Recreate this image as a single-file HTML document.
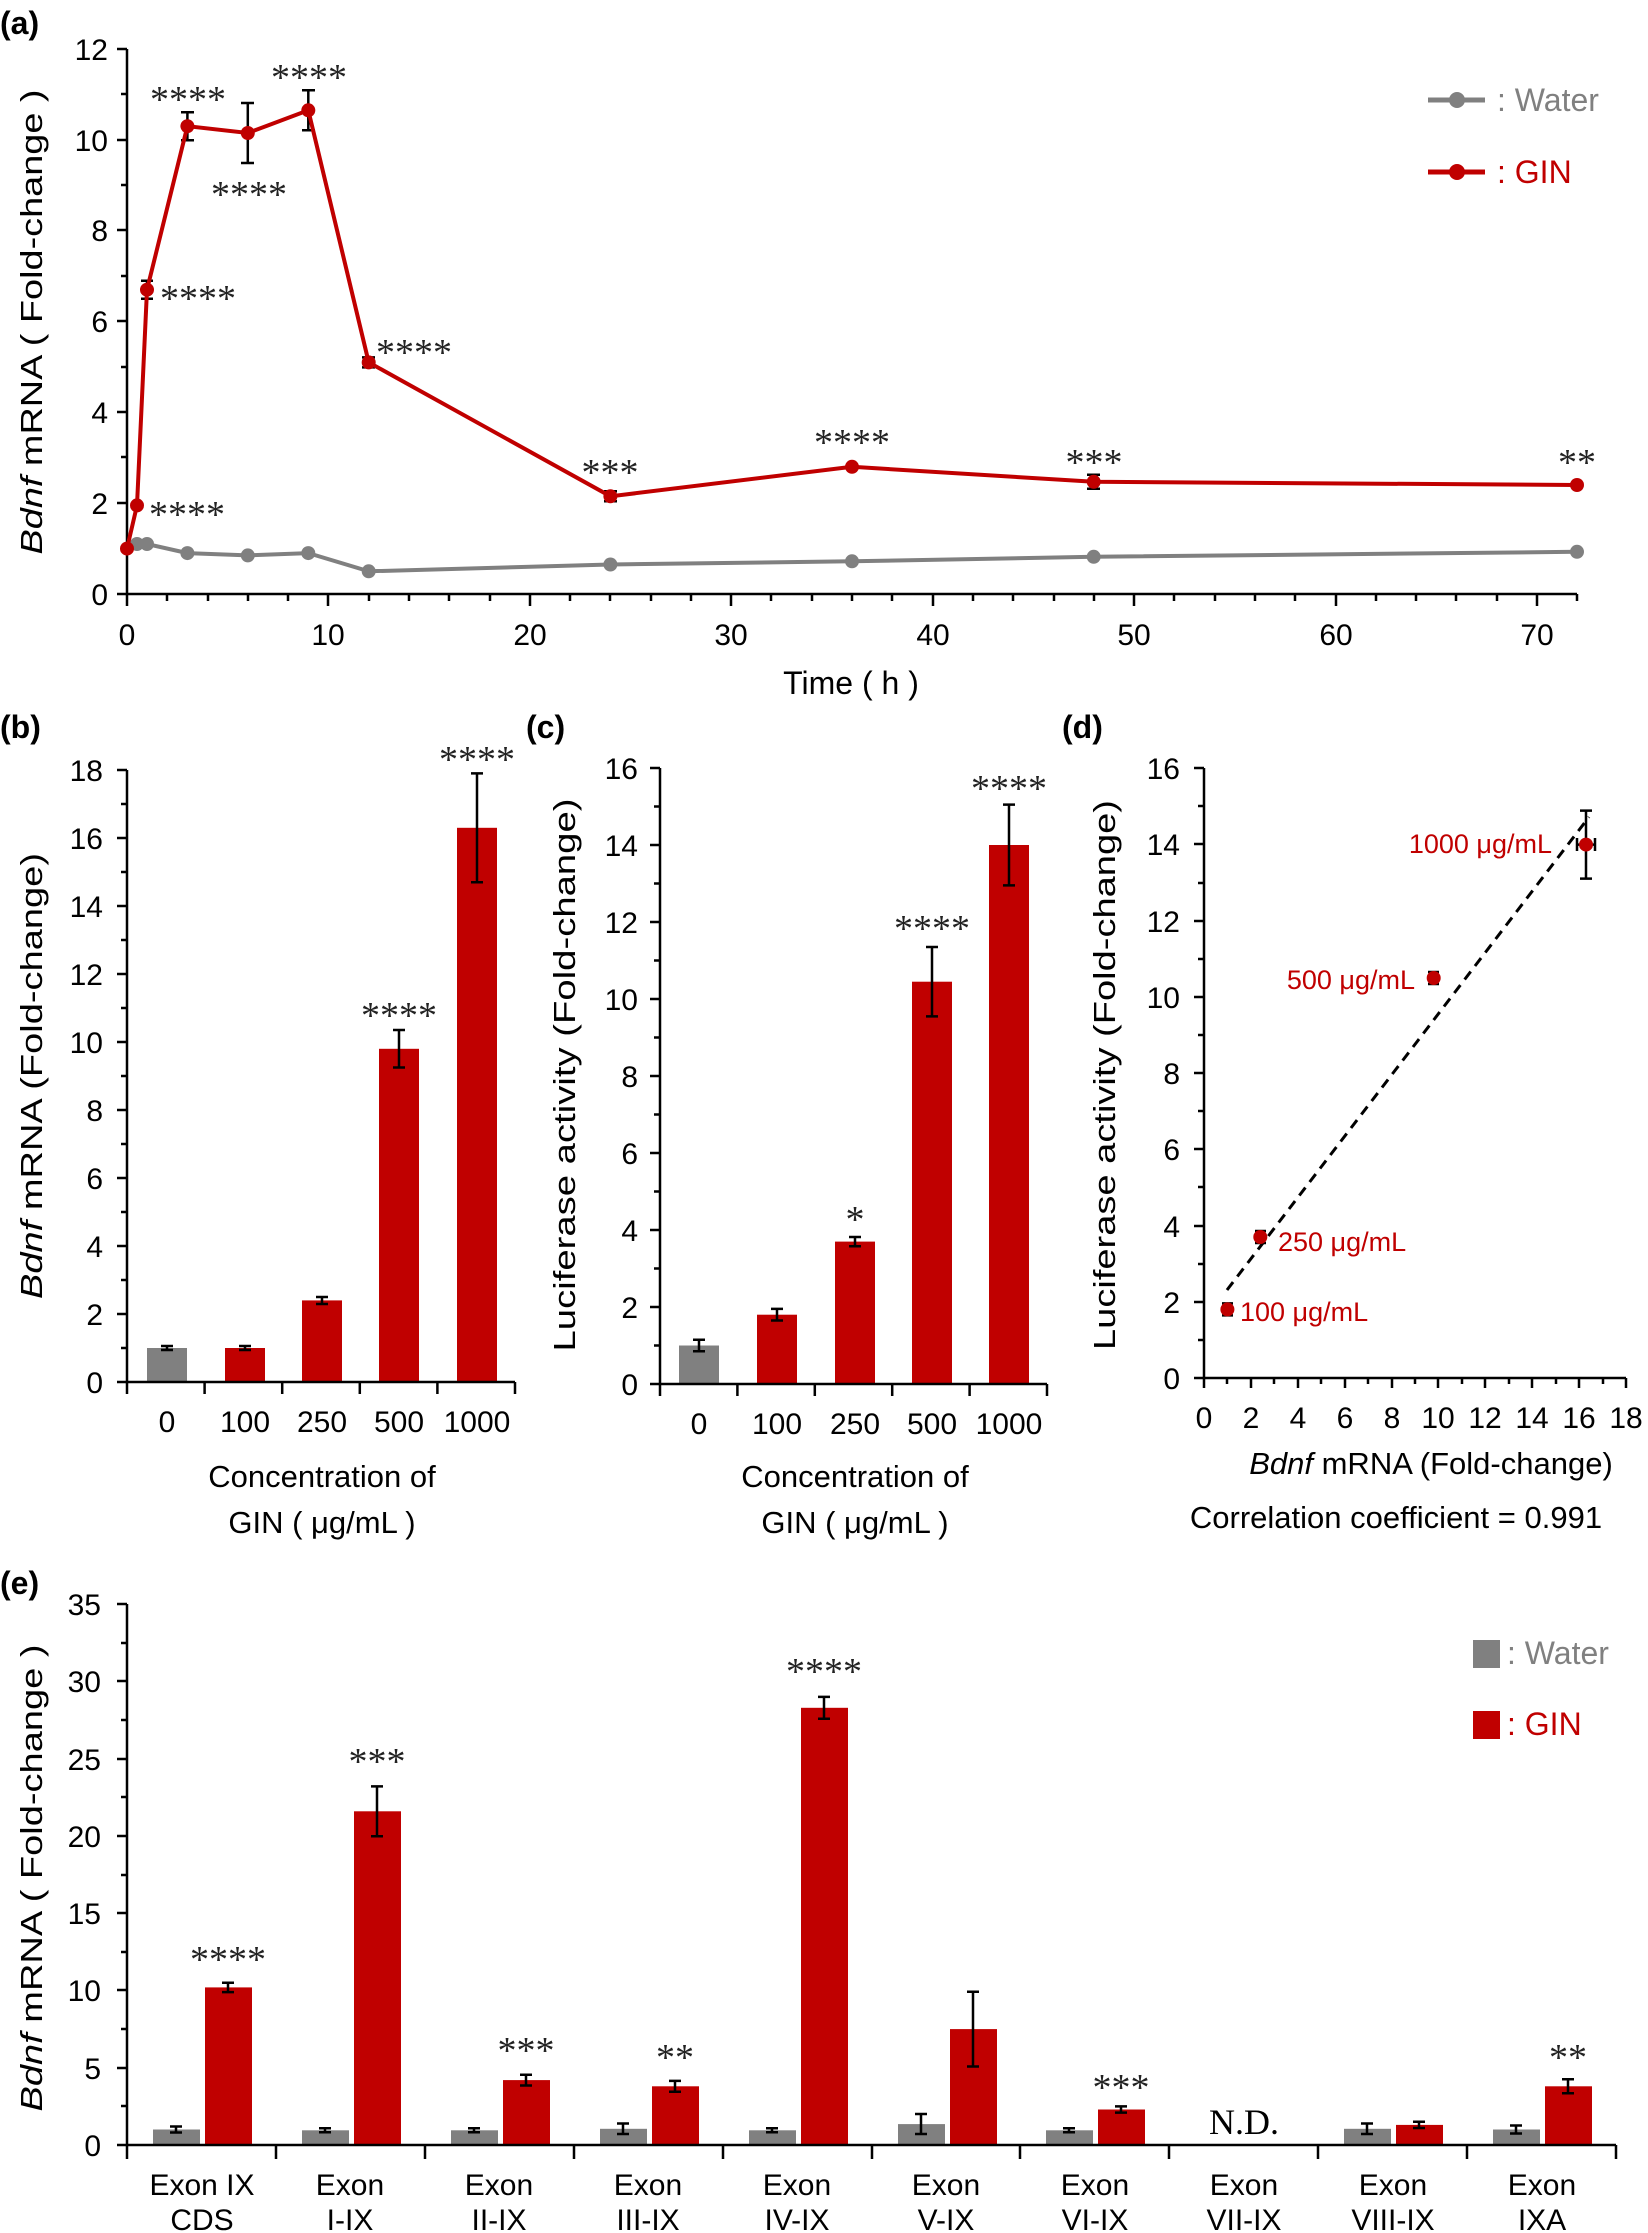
<!DOCTYPE html>
<html><head><meta charset="utf-8"><style>
html,body{margin:0;padding:0;background:#fff;}
svg{display:block;font-family:"Liberation Sans",Arial,sans-serif;}
.t{font-size:30px;fill:#000;}
.s{font-family:"Liberation Serif",serif;font-size:38px;fill:#222;}
.ax{stroke:#000;stroke-width:2.5;fill:none;}
.eb{stroke:#000;stroke-width:2.5;fill:none;}
.lab{font-weight:bold;font-size:32px;}
</style></head><body>
<svg width="1648" height="2233" viewBox="0 0 1648 2233" xmlns="http://www.w3.org/2000/svg">
<!-- ===== (a) ===== -->
<text x="0" y="34" class="lab">(a)</text>
<path class="ax" d="M127 49 V594 H1577"/>
<g class="ax">
<path d="M117 49H127M117 140H127M117 230H127M117 321H127M117 412H127M117 503H127M117 594H127"/>
<path d="M121 94H127M121 185H127M121 276H127M121 367H127M121 457H127M121 548H127"/>
<path d="M127 594v12M328 594v12M530 594v12M731 594v12M933 594v12M1134 594v12M1336 594v12M1537 594v12"/>
<path d="M167 594v7M208 594v7M248 594v7M288 594v7M369 594v7M409 594v7M449 594v7M490 594v7M570 594v7M610 594v7M651 594v7M691 594v7M771 594v7M812 594v7M852 594v7M892 594v7M973 594v7M1013 594v7M1054 594v7M1094 594v7M1174 594v7M1215 594v7M1255 594v7M1295 594v7M1376 594v7M1416 594v7M1456 594v7M1497 594v7M1577 594v7"/>
</g>
<g class="t" text-anchor="end">
<text x="108" y="60">12</text><text x="108" y="151">10</text><text x="108" y="241">8</text><text x="108" y="332">6</text><text x="108" y="423">4</text><text x="108" y="514">2</text><text x="108" y="605">0</text>
</g>
<g class="t" text-anchor="middle">
<text x="127" y="645">0</text><text x="328" y="645">10</text><text x="530" y="645">20</text><text x="731" y="645">30</text><text x="933" y="645">40</text><text x="1134" y="645">50</text><text x="1336" y="645">60</text><text x="1537" y="645">70</text>
<text x="851" y="694" style="font-size:32px">Time ( h )</text>
</g>
<text transform="translate(42,322) rotate(-90)" text-anchor="middle" style="font-size:31px" textLength="465" lengthAdjust="spacingAndGlyphs"><tspan font-style="italic">Bdnf</tspan> mRNA ( Fold-change )</text>
<polyline fill="none" stroke="#808080" stroke-width="4" points="127,548.6 137,544 147,544 187.4,553.1 247.8,555.4 308.3,553.1 368.7,571.3 610.4,564.5 852,561.3 1093.7,556.8 1577,551.8"/>
<g fill="#808080">
<circle cx="137" cy="544" r="7"/><circle cx="147" cy="544" r="7"/><circle cx="187.4" cy="553.1" r="7"/><circle cx="247.8" cy="555.4" r="7"/><circle cx="308.3" cy="553.1" r="7"/><circle cx="368.7" cy="571.3" r="7"/><circle cx="610.4" cy="564.5" r="7"/><circle cx="852" cy="561.3" r="7"/><circle cx="1093.7" cy="556.8" r="7"/><circle cx="1577" cy="551.8" r="7"/>
</g>
<g class="eb">
<path d="M147 280.7V298.7M141 280.7H153M141 298.7H153"/>
<path d="M187.4 112.2V140.2M181 112.2H194M181 140.2H194"/>
<path d="M247.8 103V163M241 103H254M241 163H254"/>
<path d="M308.3 90.3V130.3M302 90.3H315M302 130.3H315"/>
<path d="M368.7 357.4V367.4M362 357.4H375M362 367.4H375"/>
<path d="M610.4 491.3V501.3M604 491.3H617M604 501.3H617"/>
<path d="M1093.7 474.8V488.8M1087 474.8H1100M1087 488.8H1100"/>
</g>
<polyline fill="none" stroke="#c00000" stroke-width="4" points="127,548.6 137,505.4 147,289.7 187.4,126.2 247.8,133 308.3,110.3 368.7,362.4 610.4,496.3 852,466.8 1093.7,481.8 1577,485"/>
<g fill="#c00000">
<circle cx="127" cy="548.6" r="7"/><circle cx="137" cy="505.4" r="7"/><circle cx="147" cy="289.7" r="7"/><circle cx="187.4" cy="126.2" r="7"/><circle cx="247.8" cy="133" r="7"/><circle cx="308.3" cy="110.3" r="7"/><circle cx="368.7" cy="362.4" r="7"/><circle cx="610.4" cy="496.3" r="7"/><circle cx="852" cy="466.8" r="7"/><circle cx="1093.7" cy="481.8" r="7"/><circle cx="1577" cy="485" r="7"/>
</g>
<g class="s" text-anchor="middle">
<text x="188" y="112">****</text><text x="249" y="207">****</text><text x="309" y="90">****</text>
<text x="198" y="311">****</text><text x="187" y="527">****</text><text x="414" y="365">****</text>
<text x="610" y="485">***</text><text x="852" y="455">****</text><text x="1094" y="475">***</text><text x="1577" y="475">**</text>
</g>
<line x1="1428" y1="100" x2="1485" y2="100" stroke="#808080" stroke-width="5"/><circle cx="1457" cy="100" r="8" fill="#808080"/>
<text x="1497" y="111" style="font-size:32px;fill:#808080">: Water</text>
<line x1="1428" y1="172" x2="1485" y2="172" stroke="#c00000" stroke-width="5"/><circle cx="1457" cy="172" r="8" fill="#c00000"/>
<text x="1497" y="183" style="font-size:32px;fill:#c00000">: GIN</text>

<!-- ===== (b) ===== -->
<text x="0" y="738" class="lab">(b)</text>
<rect x="147" y="1348" width="40" height="34" fill="#808080"/>
<g fill="#c00000">
<rect x="225" y="1348" width="40" height="34"/><rect x="302" y="1300.4" width="40" height="81.6"/><rect x="379" y="1048.8" width="40" height="333.2"/><rect x="457" y="827.8" width="40" height="554.2"/>
</g>
<g class="eb">
<path d="M167 1346V1350M161 1346H173M161 1350H173"/>
<path d="M245 1346V1350M239 1346H251M239 1350H251"/>
<path d="M322 1297V1304M316 1297H328M316 1304H328"/>
<path d="M399 1030V1067.5M393 1030H405M393 1067.5H405"/>
<path d="M477 773.4V882.2M471 773.4H483M471 882.2H483"/>
</g>
<path class="ax" d="M127 770V1382H515"/>
<g class="ax">
<path d="M117 770H127M117 838H127M117 906H127M117 974H127M117 1042H127M117 1110H127M117 1178H127M117 1246H127M117 1314H127M117 1382H127"/>
<path d="M121 804H127M121 872H127M121 940H127M121 1008H127M121 1076H127M121 1144H127M121 1212H127M121 1280H127M121 1348H127"/>
<path d="M127 1382v12M204.6 1382v12M282.2 1382v12M359.8 1382v12M437.4 1382v12M515 1382v12"/>
</g>
<g class="t" text-anchor="end">
<text x="103" y="781">18</text><text x="103" y="849">16</text><text x="103" y="917">14</text><text x="103" y="985">12</text><text x="103" y="1053">10</text><text x="103" y="1121">8</text><text x="103" y="1189">6</text><text x="103" y="1257">4</text><text x="103" y="1325">2</text><text x="103" y="1393">0</text>
</g>
<g class="t" text-anchor="middle">
<text x="167" y="1432">0</text><text x="245" y="1432">100</text><text x="322" y="1432">250</text><text x="399" y="1432">500</text><text x="477" y="1432">1000</text>
<text x="322" y="1487" style="font-size:31px">Concentration of</text>
<text x="322" y="1533" style="font-size:31px">GIN ( μg/mL )</text>
</g>
<g class="s" text-anchor="middle"><text x="399" y="1028">****</text><text x="477" y="772">****</text></g>
<text transform="translate(42,1076) rotate(-90)" text-anchor="middle" style="font-size:31px" textLength="446" lengthAdjust="spacingAndGlyphs"><tspan font-style="italic">Bdnf</tspan> mRNA (Fold-change)</text>

<!-- ===== (c) ===== -->
<text x="526" y="738" class="lab">(c)</text>
<rect x="679" y="1345.5" width="40" height="38.5" fill="#808080"/>
<g fill="#c00000">
<rect x="757" y="1314.7" width="40" height="69.3"/><rect x="835" y="1241.6" width="40" height="142.4"/><rect x="912" y="981.7" width="40" height="402.3"/><rect x="989" y="845" width="40" height="539"/>
</g>
<g class="eb">
<path d="M699 1339.7V1351.3M693 1339.7H705M693 1351.3H705"/>
<path d="M777 1308.9V1320.5M771 1308.9H783M771 1320.5H783"/>
<path d="M855 1237V1246.2M849 1237H861M849 1246.2H861"/>
<path d="M932 947V1016.4M926 947H938M926 1016.4H938"/>
<path d="M1009 804.6V885.4M1003 804.6H1015M1003 885.4H1015"/>
</g>
<path class="ax" d="M660 768V1384H1047"/>
<g class="ax">
<path d="M650 768H660M650 845H660M650 922H660M650 999H660M650 1076H660M650 1153H660M650 1230H660M650 1307H660M650 1384H660"/>
<path d="M654 806.5H660M654 883.5H660M654 960.5H660M654 1037.5H660M654 1114.5H660M654 1191.5H660M654 1268.5H660M654 1345.5H660"/>
<path d="M660 1384v12M737.4 1384v12M814.8 1384v12M892.2 1384v12M969.6 1384v12M1047 1384v12"/>
</g>
<g class="t" text-anchor="end">
<text x="638" y="779">16</text><text x="638" y="856">14</text><text x="638" y="933">12</text><text x="638" y="1010">10</text><text x="638" y="1087">8</text><text x="638" y="1164">6</text><text x="638" y="1241">4</text><text x="638" y="1318">2</text><text x="638" y="1395">0</text>
</g>
<g class="t" text-anchor="middle">
<text x="699" y="1434">0</text><text x="777" y="1434">100</text><text x="855" y="1434">250</text><text x="932" y="1434">500</text><text x="1009" y="1434">1000</text>
<text x="855" y="1487" style="font-size:31px">Concentration of</text>
<text x="855" y="1533" style="font-size:31px">GIN ( μg/mL )</text>
</g>
<g class="s" text-anchor="middle"><text x="855" y="1232">*</text><text x="932" y="941">****</text><text x="1009" y="801">****</text></g>
<text transform="translate(575,1075) rotate(-90)" text-anchor="middle" style="font-size:31px" textLength="553" lengthAdjust="spacingAndGlyphs">Luciferase activity (Fold-change)</text>

<!-- ===== (d) ===== -->
<text x="1062" y="738" class="lab">(d)</text>
<path class="ax" d="M1204 768V1378H1626"/>
<g class="ax">
<path d="M1194 768H1204M1194 844H1204M1194 921H1204M1194 997H1204M1194 1073H1204M1194 1149H1204M1194 1226H1204M1194 1302H1204M1194 1378H1204"/>
<path d="M1198 806H1204M1198 883H1204M1198 959H1204M1198 1035H1204M1198 1111H1204M1198 1187H1204M1198 1264H1204M1198 1340H1204"/>
<path d="M1204 1378v10M1251 1378v10M1298 1378v10M1345 1378v10M1392 1378v10M1438 1378v10M1485 1378v10M1532 1378v10M1579 1378v10M1626 1378v10"/>
<path d="M1227 1378v6M1274 1378v6M1321 1378v6M1368 1378v6M1415 1378v6M1462 1378v6M1509 1378v6M1556 1378v6M1603 1378v6"/>
</g>
<g class="t" text-anchor="end">
<text x="1180" y="779">16</text><text x="1180" y="855">14</text><text x="1180" y="932">12</text><text x="1180" y="1008">10</text><text x="1180" y="1084">8</text><text x="1180" y="1160">6</text><text x="1180" y="1237">4</text><text x="1180" y="1313">2</text><text x="1180" y="1389">0</text>
</g>
<g class="t" text-anchor="middle">
<text x="1204" y="1428">0</text><text x="1251" y="1428">2</text><text x="1298" y="1428">4</text><text x="1345" y="1428">6</text><text x="1392" y="1428">8</text><text x="1438" y="1428">10</text><text x="1485" y="1428">12</text><text x="1532" y="1428">14</text><text x="1579" y="1428">16</text><text x="1626" y="1428">18</text>
<text x="1431" y="1474" style="font-size:31px"><tspan font-style="italic">Bdnf</tspan> mRNA (Fold-change)</text>
<text x="1396" y="1528" style="font-size:31px">Correlation coefficient = 0.991</text>
</g>
<text transform="translate(1115,1075) rotate(-90)" text-anchor="middle" style="font-size:31px" textLength="550" lengthAdjust="spacingAndGlyphs">Luciferase activity (Fold-change)</text>
<line x1="1227" y1="1290" x2="1589" y2="817" stroke="#000" stroke-width="3" stroke-dasharray="10,7"/>
<g class="eb">
<path d="M1586 810.6V878.6M1580 810.6H1592M1580 878.6H1592M1577 844.6H1595M1577 838V851M1595 838V851"/>
<path d="M1227.4 1303.4V1315.4M1222 1303.4H1233M1222 1315.4H1233M1221 1309.4H1234"/>
<path d="M1260.3 1231V1243M1255 1231H1266M1255 1243H1266M1254 1237H1267"/>
<path d="M1433.7 972V984M1428 972H1439M1428 984H1439M1427 978H1440"/>
</g>
<g fill="#c00000">
<circle cx="1227.4" cy="1309.4" r="7"/><circle cx="1260.3" cy="1237" r="7"/><circle cx="1433.7" cy="978" r="7"/><circle cx="1586" cy="844.6" r="7"/>
</g>
<g style="font-size:27px;fill:#c00000">
<text x="1552" y="853" text-anchor="end">1000 μg/mL</text>
<text x="1415" y="989" text-anchor="end">500 μg/mL</text>
<text x="1278" y="1251">250 μg/mL</text>
<text x="1240" y="1321">100 μg/mL</text>
</g>

<!-- ===== (e) ===== -->
<text x="0" y="1594" class="lab">(e)</text>
<g fill="#808080">
<rect x="153" y="2129.5" width="47" height="15.5"/><rect x="302" y="2130.3" width="47" height="14.7"/><rect x="451" y="2130.3" width="47" height="14.7"/><rect x="600" y="2128.8" width="47" height="16.2"/><rect x="749" y="2130.3" width="47" height="14.7"/><rect x="898" y="2124.1" width="47" height="20.9"/><rect x="1046" y="2130.3" width="47" height="14.7"/><rect x="1344" y="2128.8" width="47" height="16.2"/><rect x="1493" y="2129.5" width="47" height="15.5"/>
</g>
<g fill="#c00000">
<rect x="205" y="1987.4" width="47" height="157.6"/><rect x="354" y="1811.3" width="47" height="333.7"/><rect x="503" y="2080.1" width="47" height="64.9"/><rect x="652" y="2086.3" width="47" height="58.7"/><rect x="801" y="1707.8" width="47" height="437.2"/><rect x="950" y="2029.1" width="47" height="115.9"/><rect x="1098" y="2109.5" width="47" height="35.5"/><rect x="1396" y="2124.9" width="47" height="20.1"/><rect x="1545" y="2086.3" width="47" height="58.7"/>
</g>
<g class="eb">
<path d="M176 2126.5V2132.5M170 2126.5H182M170 2132.5H182"/>
<path d="M325 2128.3V2132.3M319 2128.3H331M319 2132.3H331"/>
<path d="M474 2128.3V2132.3M468 2128.3H480M468 2132.3H480"/>
<path d="M623 2123.5V2134M617 2123.5H629M617 2134H629"/>
<path d="M772 2128.3V2132.3M766 2128.3H778M766 2132.3H778"/>
<path d="M921 2114V2134M915 2114H927M915 2134H927"/>
<path d="M1069 2128.3V2132.3M1063 2128.3H1075M1063 2132.3H1075"/>
<path d="M1367 2123.5V2134M1361 2123.5H1373M1361 2134H1373"/>
<path d="M1516 2125.5V2133.5M1510 2125.5H1522M1510 2133.5H1522"/>
<path d="M228 1982.7V1992.1M222 1982.7H234M222 1992.1H234"/>
<path d="M377 1786.4V1836.2M371 1786.4H383M371 1836.2H383"/>
<path d="M526 2074.7V2085.5M520 2074.7H532M520 2085.5H532"/>
<path d="M675 2080.9V2091.7M669 2080.9H681M669 2091.7H681"/>
<path d="M824 1696.9V1718.7M818 1696.9H830M818 1718.7H830"/>
<path d="M973 1991.7V2066.5M967 1991.7H979M967 2066.5H979"/>
<path d="M1121 2106.4V2112.6M1115 2106.4H1127M1115 2112.6H1127"/>
<path d="M1419 2121.8V2128M1413 2121.8H1425M1413 2128H1425"/>
<path d="M1568 2079.3V2093.3M1562 2079.3H1574M1562 2093.3H1574"/>
</g>
<path class="ax" d="M127 1604V2145H1616"/>
<g class="ax">
<path d="M117 1604H127M117 1681H127M117 1759H127M117 1836H127M117 1913H127M117 1990H127M117 2068H127M117 2145H127"/>
<path d="M121 1643H127M121 1720H127M121 1797H127M121 1875H127M121 1952H127M121 2029H127M121 2106H127"/>
<path d="M127 2145v14M276 2145v14M425 2145v14M574 2145v14M723 2145v14M872 2145v14M1020 2145v14M1169 2145v14M1318 2145v14M1467 2145v14M1616 2145v14"/>
</g>
<g class="t" text-anchor="end">
<text x="101" y="1615">35</text><text x="101" y="1692">30</text><text x="101" y="1770">25</text><text x="101" y="1847">20</text><text x="101" y="1924">15</text><text x="101" y="2001">10</text><text x="101" y="2079">5</text><text x="101" y="2156">0</text>
</g>
<g class="t" text-anchor="middle">
<text x="202" y="2195">Exon IX</text><text x="202" y="2230">CDS</text>
<text x="350" y="2195">Exon</text><text x="350" y="2230">I-IX</text>
<text x="499" y="2195">Exon</text><text x="499" y="2230">II-IX</text>
<text x="648" y="2195">Exon</text><text x="648" y="2230">III-IX</text>
<text x="797" y="2195">Exon</text><text x="797" y="2230">IV-IX</text>
<text x="946" y="2195">Exon</text><text x="946" y="2230">V-IX</text>
<text x="1095" y="2195">Exon</text><text x="1095" y="2230">VI-IX</text>
<text x="1244" y="2195">Exon</text><text x="1244" y="2230">VII-IX</text>
<text x="1393" y="2195">Exon</text><text x="1393" y="2230">VIII-IX</text>
<text x="1542" y="2195">Exon</text><text x="1542" y="2230">IXA</text>
</g>
<g class="s" text-anchor="middle">
<text x="228" y="1972">****</text><text x="377" y="1774">***</text><text x="526" y="2063">***</text><text x="675" y="2070">**</text><text x="824" y="1684">****</text><text x="1121" y="2100">***</text><text x="1568" y="2070">**</text>
<text x="1244" y="2134" style="font-size:36px;fill:#000">N.D.</text>
</g>
<text transform="translate(42,1878) rotate(-90)" text-anchor="middle" style="font-size:31px" textLength="467" lengthAdjust="spacingAndGlyphs"><tspan font-style="italic">Bdnf</tspan> mRNA ( Fold-change )</text>
<rect x="1473" y="1640" width="27" height="28" fill="#808080"/>
<text x="1507" y="1664" style="font-size:32px;fill:#808080">: Water</text>
<rect x="1473" y="1711" width="27" height="28" fill="#c00000"/>
<text x="1507" y="1735" style="font-size:32px;fill:#c00000">: GIN</text>
</svg>
</body></html>
